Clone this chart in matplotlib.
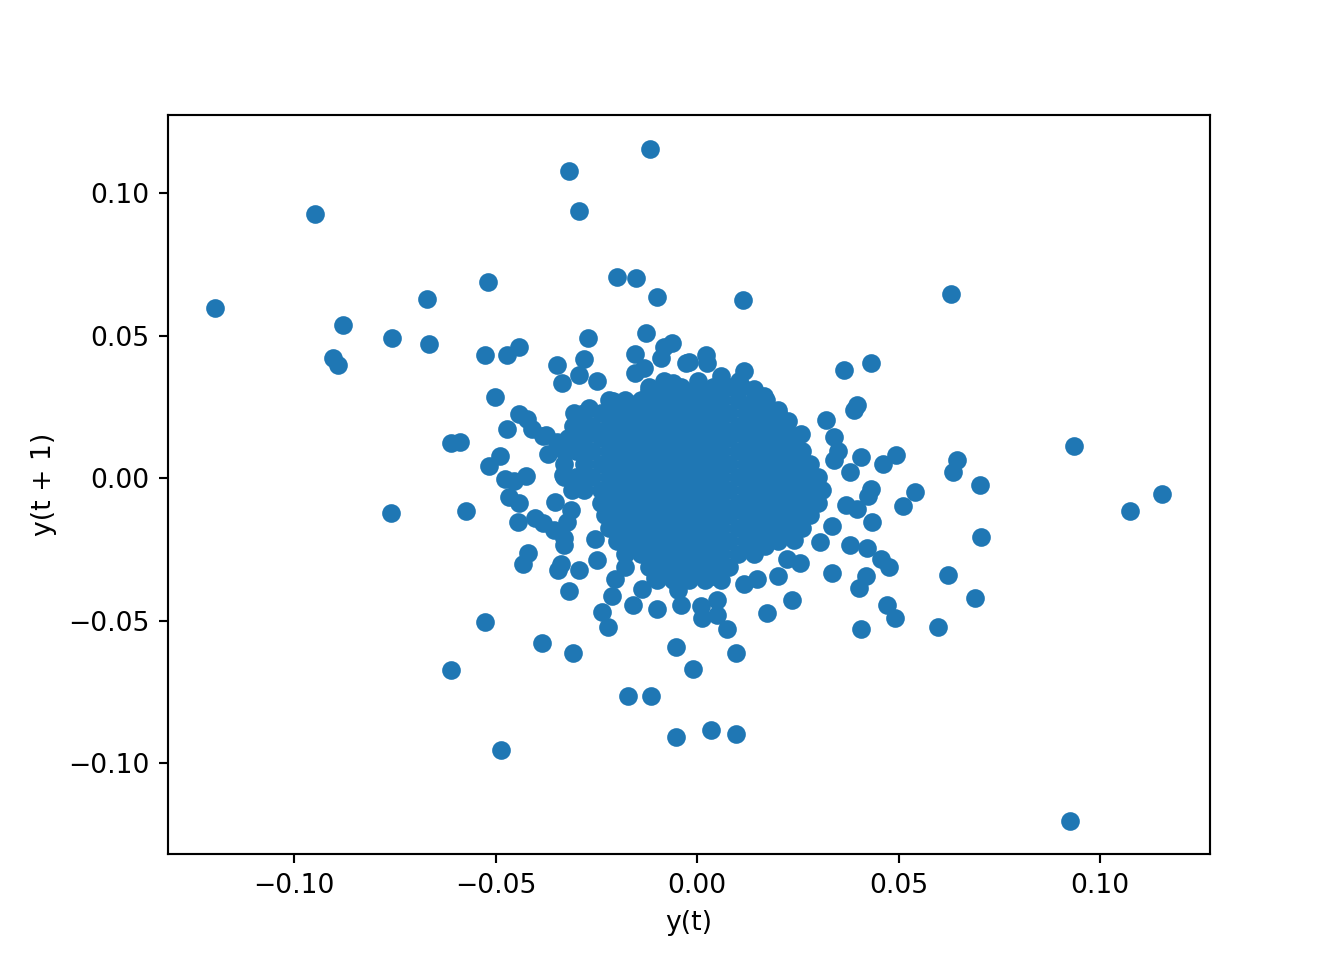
import matplotlib
matplotlib.use("Agg")
import matplotlib.pyplot as plt
import numpy as np

# scattered points: (y(t), y(t+1))
out_x = [-0.0117, -0.0318, -0.0294, -0.0949, -0.1196, -0.0520, -0.0671, -0.0199, -0.0152, -0.0100,
         -0.0880, -0.0758, -0.0666, -0.0903, -0.0892, -0.0271, -0.0127, -0.0527, -0.0472, -0.0443,
         -0.0349, -0.0281, -0.0294, -0.0336, -0.0250, -0.0155, -0.0131, -0.0155, -0.0090, -0.0083,
         -0.0063, -0.0028, -0.0502, -0.0442, -0.0423, -0.0471, -0.0410, -0.0376, -0.0383, -0.0348,
         -0.0610, -0.0588, -0.0490, -0.0517, -0.0371, -0.0425, -0.0477, -0.0454, -0.0307, -0.0309,
         -0.0268, -0.0210, -0.0173, -0.0119, -0.0083, -0.0061, -0.0305, -0.0334,
         0.0113, 0.0630, 0.0934, 0.0364, 0.0431, 0.0396, 0.0388, 0.0319, 0.0339, 0.0350,
         0.0340, 0.0406, 0.0461, 0.0493, 0.0645, 0.0635, 0.0379, 0.0022, 0.0024, -0.0020,
         0.0115, 0.0059, 0.0104, 0.0142, 0.0165, 0.0133, 0.0201, 0.0224, 0.0257, 0.0001,
         -0.0760, -0.0574, -0.0527, -0.0611, -0.0487, -0.0385, -0.0309, -0.0172, -0.0116, -0.0053,
         -0.0053, -0.0010, -0.0318, -0.0237, -0.0222, -0.0212, -0.0160, -0.0100, -0.0040, -0.0136,
         -0.0433, -0.0419, -0.0345, -0.0338, -0.0294, -0.0249, -0.0179, -0.0203, -0.0446, -0.0443,
         -0.0466, -0.0402, -0.0384, -0.0355, -0.0330, -0.0330, -0.0324, -0.0352, -0.0313, -0.0253,
         -0.0049, -0.0106,
         0.0925, 0.1154, 0.1074, 0.0702, 0.0704, 0.0689, 0.0622, 0.0598, 0.0540, 0.0511,
         0.0433, 0.0430, 0.0423, 0.0397, 0.0368, 0.0380, 0.0421, 0.0456, 0.0475, 0.0420,
         0.0401, 0.0470, 0.0490, 0.0406, 0.0334, 0.0304, 0.0334, 0.0256, 0.0223, 0.0201,
         0.0235, 0.0172, 0.0148, 0.0117, 0.0096, 0.0073, 0.0048, 0.0009, 0.0013, 0.0049,
         0.0034, 0.0096, 0.0038, 0.0167, 0.0239]
out_y = [0.1156, 0.1077, 0.0937, 0.0928, 0.0598, 0.0689, 0.0630, 0.0707, 0.0703, 0.0637,
         0.0538, 0.0493, 0.0472, 0.0423, 0.0398, 0.0493, 0.0510, 0.0434, 0.0434, 0.0461,
         0.0398, 0.0419, 0.0364, 0.0335, 0.0343, 0.0438, 0.0388, 0.0370, 0.0423, 0.0461,
         0.0474, 0.0405, 0.0286, 0.0227, 0.0210, 0.0174, 0.0174, 0.0151, 0.0148, 0.0128,
         0.0124, 0.0128, 0.0080, 0.0045, 0.0086, 0.0010, -0.0002, -0.0010, 0.0230, 0.0183,
         0.0247, 0.0270, 0.0265, 0.0306, 0.0341, 0.0335, 0.0124, 0.0013,
         0.0624, 0.0647, 0.0115, 0.0380, 0.0403, 0.0259, 0.0241, 0.0206, 0.0144, 0.0095,
         0.0066, 0.0075, 0.0051, 0.0081, 0.0066, 0.0023, 0.0023, 0.0434, 0.0405, 0.0409,
         0.0378, 0.0358, 0.0341, 0.0315, 0.0288, 0.0259, 0.0241, 0.0200, 0.0154, 0.0341,
         -0.0121, -0.0115, -0.0503, -0.0673, -0.0952, -0.0577, -0.0612, -0.0764, -0.0764, -0.0907,
         -0.0591, -0.0668, -0.0395, -0.0468, -0.0521, -0.0412, -0.0445, -0.0458, -0.0444, -0.0388,
         -0.0299, -0.0261, -0.0320, -0.0302, -0.0320, -0.0285, -0.0311, -0.0353, -0.0153, -0.0086,
         -0.0065, -0.0139, -0.0156, -0.0180, -0.0232, -0.0209, -0.0154, -0.0082, -0.0110, -0.0212,
         -0.0390, -0.0349,
         -0.1201, -0.0054, -0.0114, -0.0022, -0.0205, -0.0419, -0.0339, -0.0520, -0.0047, -0.0097,
         -0.0153, -0.0037, -0.0063, -0.0109, -0.0092, -0.0235, -0.0244, -0.0282, -0.0312, -0.0341,
         -0.0384, -0.0443, -0.0489, -0.0527, -0.0332, -0.0223, -0.0166, -0.0296, -0.0282, -0.0343,
         -0.0426, -0.0472, -0.0353, -0.0369, -0.0612, -0.0530, -0.0428, -0.0446, -0.0489, -0.0478,
         -0.0881, -0.0895, -0.0343, -0.0238, -0.0215]

# dense core: too packed to read single points, estimated row by row
core_row_y = [0.032, 0.0275, 0.023, 0.0185, 0.014, 0.0095, 0.005, 0.0005,
              -0.004, -0.0085, -0.013, -0.0175, -0.022, -0.0265, -0.031, -0.0355]
core_row_x = [
    [-0.012, -0.008, -0.004, 0.000, 0.004, 0.008, 0.011],
    [-0.022, -0.018, -0.014, -0.010, -0.006, -0.002, 0.002, 0.006, 0.010, 0.014, 0.017],
    [-0.028, -0.024, -0.020, -0.016, -0.012, -0.008, -0.004, 0.000, 0.004, 0.008, 0.012, 0.016, 0.020],
    [-0.030, -0.026, -0.022, -0.018, -0.014, -0.010, -0.006, -0.002, 0.002, 0.006, 0.010, 0.014,
     0.018, 0.022],
    [-0.032, -0.028, -0.024, -0.020, -0.016, -0.012, -0.008, -0.004, 0.000, 0.004, 0.008, 0.012,
     0.016, 0.020, 0.024],
    [-0.033, -0.030, -0.026, -0.022, -0.018, -0.014, -0.010, -0.006, -0.002, 0.002, 0.006, 0.010,
     0.014, 0.018, 0.022, 0.026],
    [-0.033, -0.028, -0.024, -0.020, -0.016, -0.012, -0.008, -0.004, 0.000, 0.004, 0.008, 0.012,
     0.016, 0.020, 0.024, 0.028],
    [-0.033, -0.030, -0.026, -0.022, -0.018, -0.014, -0.010, -0.006, -0.002, 0.002, 0.006, 0.010,
     0.014, 0.018, 0.022, 0.026, 0.030],
    [-0.031, -0.028, -0.024, -0.020, -0.016, -0.012, -0.008, -0.004, 0.000, 0.004, 0.008, 0.012,
     0.016, 0.020, 0.024, 0.028, 0.031],
    [-0.024, -0.022, -0.018, -0.014, -0.010, -0.006, -0.002, 0.002, 0.006, 0.010, 0.014, 0.018,
     0.022, 0.026, 0.030],
    [-0.023, -0.020, -0.016, -0.012, -0.008, -0.004, 0.000, 0.004, 0.008, 0.012, 0.016, 0.020,
     0.024, 0.028],
    [-0.022, -0.018, -0.014, -0.010, -0.006, -0.002, 0.002, 0.006, 0.010, 0.014, 0.018, 0.022, 0.026],
    [-0.020, -0.016, -0.012, -0.008, -0.004, 0.000, 0.004, 0.008, 0.012, 0.016, 0.020],
    [-0.018, -0.014, -0.010, -0.006, -0.002, 0.002, 0.006, 0.010, 0.014],
    [-0.012, -0.008, -0.004, 0.000, 0.004, 0.008],
    [-0.010, -0.006, -0.002, 0.002, 0.006],
]

core_x = []
core_y = []
for yv, row in zip(core_row_y, core_row_x):
  core_x += row
  core_y += [yv] * len(row)

x = np.array(core_x + out_x)
y = np.array(core_y + out_y)

fig, ax = plt.subplots(figsize=(7, 5), dpi=192)
ax.scatter(x, y, c='#1f77b4')
ax.set_xlabel('y(t)')
ax.set_ylabel('y(t + 1)')

fig.savefig('out.png', dpi=192)
